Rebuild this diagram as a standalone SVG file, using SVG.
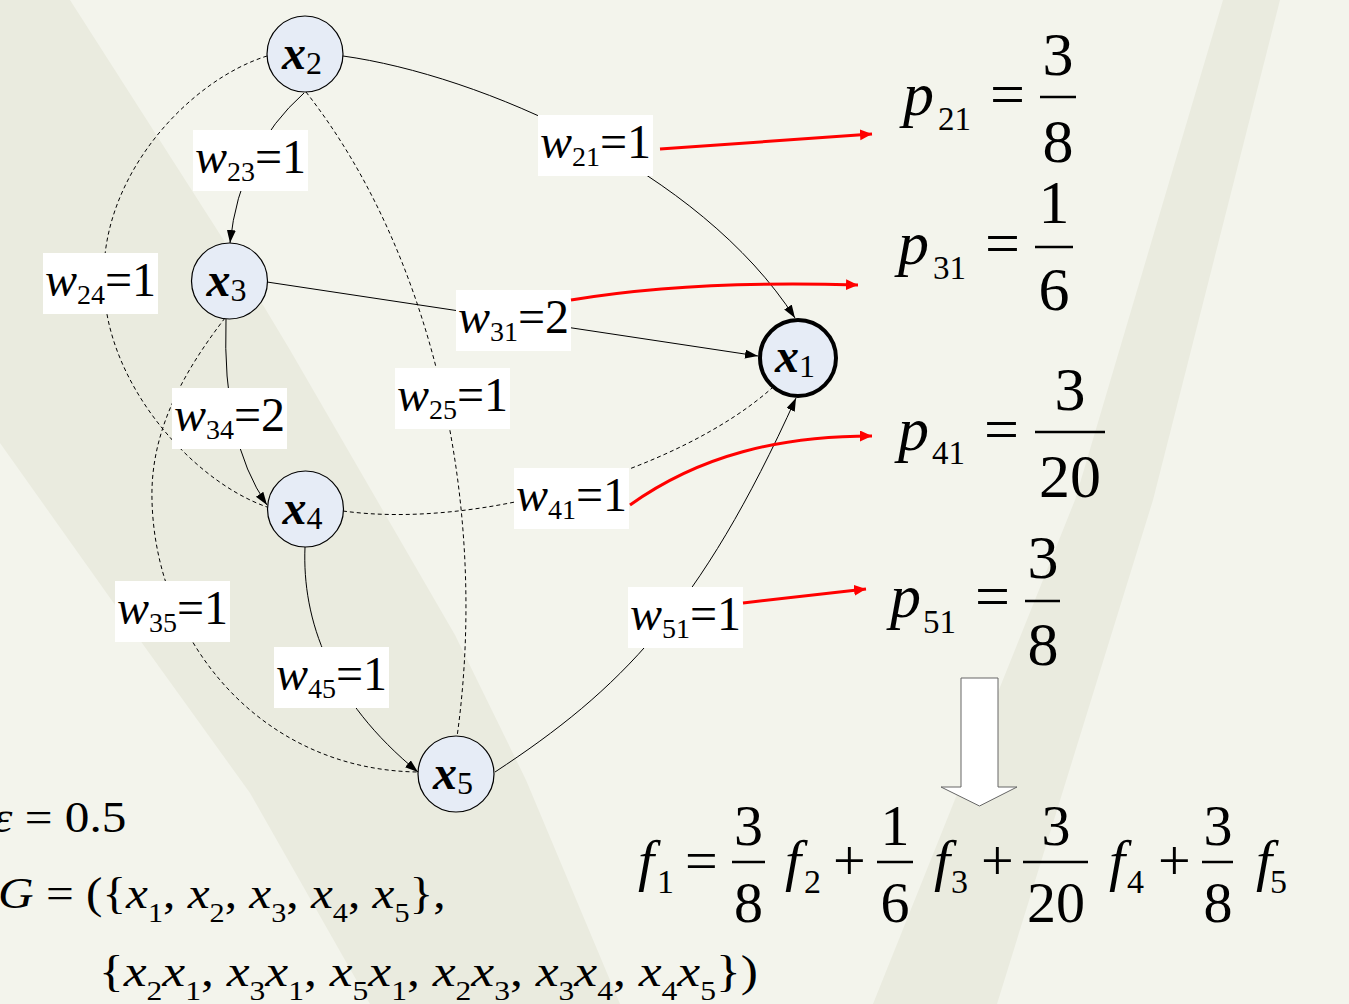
<svg xmlns="http://www.w3.org/2000/svg" width="1349" height="1004" viewBox="0 0 1349 1004" font-family="'Liberation Serif', Tinos, 'Times New Roman', 'DejaVu Serif', serif">
<defs>
<style>
text, tspan{font-family:'Liberation Serif', Tinos, 'Times New Roman', 'DejaVu Serif', serif}
text{fill:#000}
.nc{fill:#E6ECF6;stroke:#000;stroke-width:1.2}
.nl{font-size:32px}
.nx{font-size:48px;font-weight:bold;font-style:italic}
.lr{fill:#fff}
.lt{font-size:48px}
.it{font-style:italic}
.sb{font-size:28px}
.e{fill:none;stroke:#000;stroke-width:1}
.d{stroke-dasharray:4 3}
.r{fill:none;stroke:#F00;stroke-width:3}
.m{font-size:62px}
.ms{font-size:33px}
.bar{stroke:#000;stroke-width:2.5}
.f{font-size:58px}
.fs{font-size:34px}
.g{font-size:44px}
.gs{font-size:27px}
</style>
<marker id="ah" markerUnits="userSpaceOnUse" markerWidth="14" markerHeight="10" refX="13" refY="4.5" orient="auto">
<path d="M0,0 L13,4.5 L0,9 Z" fill="#000"/>
</marker>
<marker id="ar" markerUnits="userSpaceOnUse" markerWidth="13" markerHeight="12" refX="12" refY="5.5" orient="auto">
<path d="M0,0 L12,5.5 L0,11 Z" fill="#F00"/>
</marker>
</defs>
<g id="background">
<rect x="0" y="0" width="1349" height="1004" fill="#F3F4EC"/>
<path d="M0,0 L70,0 L230,250 L290,350 L455,635 L526,780 L620,1004 L370,1004 L250,793 L147,650 L0,443 Z" fill="#EAEBDF"/>
<path d="M1223,0 L1280,0 L1153,500 L997,1004 L873,1004 L1075,500 Z" fill="#EAEBDF"/>
</g>
<g id="connectors">
<path class="e" d="M343,56 C480,75 700,170 795,318" marker-end="url(#ah)"/>
<path class="e" d="M304,93 Q240,150 230,243" marker-end="url(#ah)"/>
<path class="e" d="M267,282 L758,356" marker-end="url(#ah)"/>
<path class="e" d="M226,319 Q222,440 267,505" marker-end="url(#ah)"/>
<path class="e" d="M305,547 C302,620 330,700 418,772" marker-end="url(#ah)"/>
<path class="e" d="M495,772 C620,690 700,610 796,398" marker-end="url(#ah)"/>
<path class="e d" d="M267,56 C190,80 100,175 104,282 C104,380 190,480 267,507"/>
<path class="e d" d="M306,92 C430,250 490,500 457,737"/>
<path class="e d" d="M225,318 C185,370 150,430 152,500 C155,640 260,770 418,772"/>
<path class="e d" d="M343,511 C480,530 680,470 772,388"/>
</g>
<g id="node-x2"><circle class="nc" cx="305" cy="54" r="38"/><text x="282" y="69"><tspan class="nx">x</tspan><tspan class="nl" dy="5">2</tspan></text></g>
<g id="node-x3"><circle class="nc" cx="229.5" cy="281" r="38"/><text x="206.5" y="296"><tspan class="nx">x</tspan><tspan class="nl" dy="5">3</tspan></text></g>
<g id="node-x4"><circle class="nc" cx="305.5" cy="509" r="38"/><text x="282.5" y="524"><tspan class="nx">x</tspan><tspan class="nl" dy="5">4</tspan></text></g>
<g id="node-x5"><circle class="nc" cx="456" cy="774" r="38"/><text x="433" y="789"><tspan class="nx">x</tspan><tspan class="nl" dy="5">5</tspan></text></g>
<g id="node-x1"><circle class="nc" cx="798" cy="358" r="38" style="stroke-width:4"/><text x="775" y="372"><tspan class="nx">x</tspan><tspan class="nl" dy="5">1</tspan></text></g>
<g id="label-w21"><rect class="lr" x="538" y="115" width="115" height="61"/><text class="lt" x="540" y="158"><tspan class="it">w</tspan><tspan class="sb" dy="8">21</tspan><tspan dy="-8">=1</tspan></text></g>
<g id="label-w23"><rect class="lr" x="193" y="130" width="115" height="61"/><text class="lt" x="195" y="173"><tspan class="it">w</tspan><tspan class="sb" dy="8">23</tspan><tspan dy="-8">=1</tspan></text></g>
<g id="label-w24"><rect class="lr" x="43" y="253" width="115" height="61"/><text class="lt" x="45" y="296"><tspan class="it">w</tspan><tspan class="sb" dy="8">24</tspan><tspan dy="-8">=1</tspan></text></g>
<g id="label-w31"><rect class="lr" x="456" y="290" width="115" height="61"/><text class="lt" x="458" y="333"><tspan class="it">w</tspan><tspan class="sb" dy="8">31</tspan><tspan dy="-8">=2</tspan></text></g>
<g id="label-w25"><rect class="lr" x="395" y="368" width="115" height="61"/><text class="lt" x="397" y="411"><tspan class="it">w</tspan><tspan class="sb" dy="8">25</tspan><tspan dy="-8">=1</tspan></text></g>
<g id="label-w34"><rect class="lr" x="172" y="388" width="115" height="61"/><text class="lt" x="174" y="431"><tspan class="it">w</tspan><tspan class="sb" dy="8">34</tspan><tspan dy="-8">=2</tspan></text></g>
<g id="label-w41"><rect class="lr" x="514" y="468" width="115" height="61"/><text class="lt" x="516" y="511"><tspan class="it">w</tspan><tspan class="sb" dy="8">41</tspan><tspan dy="-8">=1</tspan></text></g>
<g id="label-w35"><rect class="lr" x="115" y="581" width="115" height="61"/><text class="lt" x="117" y="624"><tspan class="it">w</tspan><tspan class="sb" dy="8">35</tspan><tspan dy="-8">=1</tspan></text></g>
<g id="label-w51"><rect class="lr" x="628" y="587" width="115" height="61"/><text class="lt" x="630" y="630"><tspan class="it">w</tspan><tspan class="sb" dy="8">51</tspan><tspan dy="-8">=1</tspan></text></g>
<g id="label-w45"><rect class="lr" x="274" y="647" width="115" height="61"/><text class="lt" x="276" y="690"><tspan class="it">w</tspan><tspan class="sb" dy="8">45</tspan><tspan dy="-8">=1</tspan></text></g>
<g id="red-arrows">
<path class="r" d="M660,149 L872,134" marker-end="url(#ar)"/>
<path class="r" d="M571,300 Q690,280 858,285" marker-end="url(#ar)"/>
<path class="r" d="M630,505 C700,455 780,436 872,436" marker-end="url(#ar)"/>
<path class="r" d="M743,603 L866,589" marker-end="url(#ar)"/>
</g>
<g id="p21">
<text class="m it" x="903" y="115">p</text><text class="ms" x="938" y="130">21</text>
<text class="m" x="990" y="115">=</text>
<text class="m" x="1058" y="75" text-anchor="middle">3</text>
<line class="bar" x1="1040" y1="97" x2="1076" y2="97"/>
<text class="m" x="1058" y="162" text-anchor="middle">8</text>
</g>
<g id="p31">
<text class="m it" x="898" y="264">p</text><text class="ms" x="933" y="279">31</text>
<text class="m" x="985" y="264">=</text>
<text class="m" x="1054" y="223" text-anchor="middle">1</text>
<line class="bar" x1="1035" y1="247" x2="1073" y2="247"/>
<text class="m" x="1054" y="310" text-anchor="middle">6</text>
</g>
<g id="p41">
<text class="m it" x="898" y="450">p</text><text class="ms" x="932" y="464">41</text>
<text class="m" x="984" y="450">=</text>
<text class="m" x="1070" y="410" text-anchor="middle">3</text>
<line class="bar" x1="1035" y1="432" x2="1105" y2="432"/>
<text class="m" x="1070" y="497" text-anchor="middle">20</text>
</g>
<g id="p51">
<text class="m it" x="890" y="617">p</text><text class="ms" x="923" y="633">51</text>
<text class="m" x="975" y="617">=</text>
<text class="m" x="1043" y="578" text-anchor="middle">3</text>
<line class="bar" x1="1025" y1="601" x2="1060" y2="601"/>
<text class="m" x="1043" y="665" text-anchor="middle">8</text>
</g>
<g id="block-arrow">
<path d="M961,678 L998,678 L998,787 L1017,787 L979.5,806 L941,787 L961,787 Z" fill="#fff" stroke="#666" stroke-width="1"/>
</g>
<g id="f1">
<text class="f it" x="638" y="880">f</text><text class="fs" x="657" y="893">1</text>
<text class="f" x="685" y="880">=</text>
<text class="f" x="748.5" y="845" text-anchor="middle">3</text><line class="bar" x1="732" y1="862" x2="765" y2="862"/><text class="f" x="748.5" y="922" text-anchor="middle">8</text>
<text class="f it" x="785" y="880">f</text><text class="fs" x="804" y="893">2</text>
<text class="f" x="833" y="880">+</text>
<text class="f" x="895" y="845" text-anchor="middle">1</text><line class="bar" x1="877" y1="862" x2="913" y2="862"/><text class="f" x="895" y="922" text-anchor="middle">6</text>
<text class="f it" x="934" y="880">f</text><text class="fs" x="951" y="893">3</text>
<text class="f" x="981" y="880">+</text>
<text class="f" x="1056" y="845" text-anchor="middle">3</text><line class="bar" x1="1023" y1="862" x2="1088" y2="862"/><text class="f" x="1056" y="922" text-anchor="middle">20</text>
<text class="f it" x="1109" y="880">f</text><text class="fs" x="1127" y="893">4</text>
<text class="f" x="1158" y="880">+</text>
<text class="f" x="1218" y="845" text-anchor="middle">3</text><line class="bar" x1="1202" y1="862" x2="1233" y2="862"/><text class="f" x="1218" y="922" text-anchor="middle">8</text>
<text class="f it" x="1256" y="880">f</text><text class="fs" x="1270" y="893">5</text>
</g>
<g id="graph-def">
<g transform="translate(-7,832) scale(1.12,1)"><text class="g" x="0" y="0"><tspan class="it">ε</tspan> = 0.5</text></g>
<g transform="translate(-2,908) scale(1.12,1)"><text class="g" x="0" y="0"><tspan class="it">G</tspan> = ({<tspan class="it">x</tspan><tspan class="gs" dy="14">1</tspan><tspan dy="-14">, </tspan><tspan class="it">x</tspan><tspan class="gs" dy="14">2</tspan><tspan dy="-14">, </tspan><tspan class="it">x</tspan><tspan class="gs" dy="14">3</tspan><tspan dy="-14">, </tspan><tspan class="it">x</tspan><tspan class="gs" dy="14">4</tspan><tspan dy="-14">, </tspan><tspan class="it">x</tspan><tspan class="gs" dy="14">5</tspan><tspan dy="-14">},</tspan></text></g>
<g transform="translate(99,986) scale(1.17,1)"><text class="g" x="0" y="0">{<tspan class="it">x</tspan><tspan class="gs" dy="14">2</tspan><tspan class="it" dy="-14">x</tspan><tspan class="gs" dy="14">1</tspan><tspan dy="-14">, </tspan><tspan class="it">x</tspan><tspan class="gs" dy="14">3</tspan><tspan class="it" dy="-14">x</tspan><tspan class="gs" dy="14">1</tspan><tspan dy="-14">, </tspan><tspan class="it">x</tspan><tspan class="gs" dy="14">5</tspan><tspan class="it" dy="-14">x</tspan><tspan class="gs" dy="14">1</tspan><tspan dy="-14">, </tspan><tspan class="it">x</tspan><tspan class="gs" dy="14">2</tspan><tspan class="it" dy="-14">x</tspan><tspan class="gs" dy="14">3</tspan><tspan dy="-14">, </tspan><tspan class="it">x</tspan><tspan class="gs" dy="14">3</tspan><tspan class="it" dy="-14">x</tspan><tspan class="gs" dy="14">4</tspan><tspan dy="-14">, </tspan><tspan class="it">x</tspan><tspan class="gs" dy="14">4</tspan><tspan class="it" dy="-14">x</tspan><tspan class="gs" dy="14">5</tspan><tspan dy="-14">})</tspan></text></g>
</g>
</svg>
